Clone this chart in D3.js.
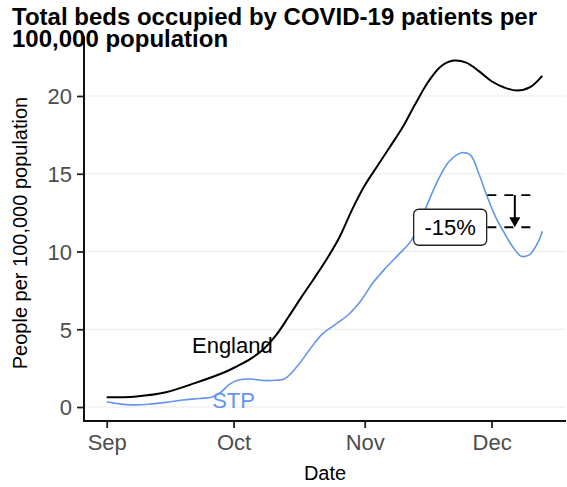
<!DOCTYPE html>
<html><head><meta charset="utf-8">
<script src="https://cdn.jsdelivr.net/npm/d3@7"></script>
<style>body{margin:0;background:#fff;} svg{display:block;}</style>
</head><body>
<svg id="chart" width="567" height="487"></svg>
<script>
// ---- data ----
const englandDates = ["2020-09-01","2020-09-08","2020-09-15","2020-09-22","2020-09-29","2020-10-02","2020-10-05","2020-10-08","2020-10-11","2020-10-14","2020-10-17","2020-10-20","2020-10-23","2020-10-26","2020-10-29","2020-11-01","2020-11-04","2020-11-07","2020-11-10","2020-11-13","2020-11-16","2020-11-19","2020-11-22","2020-11-25","2020-11-28","2020-12-01","2020-12-04","2020-12-07","2020-12-10","2020-12-13"];
const englandValues = [0.62,0.68,0.95,1.55,2.25,2.65,3.1,3.7,4.6,5.8,7.05,8.25,9.5,10.9,12.68,14.24,15.5,16.74,18.0,19.5,20.9,21.9,22.28,22.15,21.6,20.95,20.55,20.35,20.55,21.3];

const stpDates = ["2020-09-01","2020-09-04","2020-09-07","2020-09-11","2020-09-15","2020-09-19","2020-09-23","2020-09-26","2020-09-28","2020-09-30","2020-10-02","2020-10-05","2020-10-08","2020-10-11","2020-10-13","2020-10-16","2020-10-19","2020-10-22","2020-10-25","2020-10-28","2020-10-31","2020-11-03","2020-11-06","2020-11-09","2020-11-12","2020-11-15","2020-11-18","2020-11-21","2020-11-24","2020-11-26","2020-11-28","2020-11-30","2020-12-02","2020-12-04","2020-12-06","2020-12-08","2020-12-10","2020-12-12","2020-12-13"];
const stpValues = [0.34,0.2,0.14,0.18,0.3,0.45,0.55,0.65,0.95,1.45,1.72,1.8,1.7,1.72,1.8,2.6,3.7,4.7,5.3,5.9,6.8,8.0,8.95,9.8,10.7,12.5,14.4,15.8,16.35,16.2,15.0,13.5,12.2,11.2,10.3,9.7,9.8,10.6,11.3];

const yTicks = [0,5,10,15,20];
const xTickDates = ["2020-09-01","2020-10-01","2020-11-01","2020-12-01"];
const xTickLabels = ["Sep","Oct","Nov","Dec"];

const seriesLabels = ["England","STP"];
const seriesLabelDates = ["2020-09-30T17:00:00Z","2020-10-01T00:00:00Z"];
const seriesLabelValues = [3.5,-0.06];

const annotDates = ["2020-11-30","2020-12-12"];
const annotUpper = 13.63;
const annotLower = 11.56;
const arrowDate = "2020-12-06T12:00:00Z";
const annotLabel = "-15%";
const annotLabelDate = "2020-11-21T05:00:00Z";

const titleLines = ["Total beds occupied by COVID-19 patients per","100,000 population"];
const xTitle = "Date";
const yTitle = "People per 100,000 population";

// ---- layout ----
const svg = d3.select("#chart");
const mLeft = 84, mRight = 566, mTop = 36, mBottom = 421;
const parse = s => new Date(s.length === 10 ? s + "T00:00:00Z" : s);
const dayMs = 864e5;
const x0 = parse("2020-09-01").getTime();
const x = d3.scaleUtc()
  .domain([new Date(x0 - 5.37*dayMs), new Date(x0 + 108.6*dayMs)])
  .range([mLeft, mRight]);
const yPerUnit = 15.55;
const y = d3.scaleLinear().domain([-0.9, -0.9 + (mBottom - mTop)/yPerUnit]).range([mBottom, mTop]);

const font = "'Liberation Sans', Arial, sans-serif";

// grid
svg.append("g").selectAll("line").data(yTicks).join("line")
  .attr("x1", mLeft).attr("x2", mRight)
  .attr("y1", d => y(d)).attr("y2", d => y(d))
  .attr("stroke", "#ebebeb").attr("stroke-width", 1.2);

// lines
const eng = englandDates.map((d,i)=>({date:parse(d), v:englandValues[i]}));
const stp = stpDates.map((d,i)=>({date:parse(d), v:stpValues[i]}));
const line = d3.line().x(d=>x(d.date)).y(d=>y(d.v)).curve(d3.curveCatmullRom.alpha(0.5));
svg.append("path").datum(eng).attr("d", line).attr("fill","none").attr("stroke","#000").attr("stroke-width",2);
svg.append("path").datum(stp).attr("d", line).attr("fill","none").attr("stroke","#6495ED").attr("stroke-width",1.6);

// series labels
const labColors = ["#000","#6495ED"];
svg.append("g").selectAll("text").data(seriesLabels).join("text")
  .attr("x",(d,i)=>x(parse(seriesLabelDates[i])))
  .attr("y",(d,i)=>y(seriesLabelValues[i]))
  .attr("text-anchor","middle")
  .attr("font-family",font).attr("font-size",22)
  .attr("fill",(d,i)=>labColors[i]).text(d=>d);

// annotation dashed lines
[annotUpper, annotLower].forEach(v => {
  svg.append("line")
    .attr("x1", x(parse(annotDates[0]))).attr("x2", x(parse(annotDates[1])))
    .attr("y1", y(v)).attr("y2", y(v))
    .attr("stroke","#000").attr("stroke-width",1.8).attr("stroke-dasharray","9,8");
});
// arrow
const ax = x(parse(arrowDate));
svg.append("line").attr("x1",ax).attr("x2",ax)
  .attr("y1",y(annotUpper)).attr("y2",y(annotLower)-8)
  .attr("stroke","#000").attr("stroke-width",2);
svg.append("path")
  .attr("d",`M${ax-5.5},${y(annotLower)-10} L${ax+5.5},${y(annotLower)-10} L${ax},${y(annotLower)} Z`)
  .attr("fill","#000");

// label box
const lx = x(parse(annotLabelDate)), ly = y(annotLower);
const lbl = svg.append("g");
lbl.append("text").attr("x",lx).attr("y",ly+7.5)
  .attr("text-anchor","middle").attr("font-family",font).attr("font-size",22)
  .attr("fill","#000").text(annotLabel);
lbl.insert("rect","text")
  .attr("x",lx-36.5).attr("y",ly-18).attr("width",73).attr("height",36)
  .attr("rx",5).attr("fill","#fff").attr("stroke","#222").attr("stroke-width",1.3);

// axes
const yAxis = d3.axisLeft(y).tickValues(yTicks).tickSize(7).tickPadding(5);
const gy = svg.append("g").attr("transform",`translate(${mLeft},0)`).call(yAxis);
const xAxis = d3.axisBottom(x).tickValues(xTickDates.map(parse)).tickFormat((d,i)=>xTickLabels[i]).tickSize(7).tickPadding(6);
const gx = svg.append("g").attr("transform",`translate(0,${mBottom})`).call(xAxis);
[gx, gy].forEach(g => {
  g.select(".domain").remove();
  g.selectAll(".tick line").attr("stroke","#222").attr("stroke-width",1.8);
  g.selectAll(".tick text").attr("font-family",font).attr("font-size",22).attr("fill","#4d4d4d");
});
gy.selectAll(".tick text").attr("dy","0.36em");
svg.append("line").attr("x1",mLeft).attr("x2",mLeft).attr("y1",mTop).attr("y2",mBottom+1)
  .attr("stroke","#111").attr("stroke-width",2);
svg.append("line").attr("x1",mLeft-1).attr("x2",mRight).attr("y1",mBottom).attr("y2",mBottom)
  .attr("stroke","#111").attr("stroke-width",2);

// titles
svg.append("text").attr("x",(mLeft+mRight)/2).attr("y",480).attr("text-anchor","middle")
  .attr("font-family",font).attr("font-size",20).attr("fill","#000").text(xTitle);
svg.append("text").attr("transform",`translate(27,${(421+45)/2}) rotate(-90)`)
  .attr("text-anchor","middle").attr("font-family",font).attr("font-size",20).attr("fill","#000").text(yTitle);
const tt = svg.append("text").attr("font-family",font).attr("font-size",24).attr("font-weight","bold").attr("fill","#000");
titleLines.forEach((t,i)=>tt.append("tspan").attr("x",12).attr("y",25+i*21.7).text(t));
</script>
</body></html>
